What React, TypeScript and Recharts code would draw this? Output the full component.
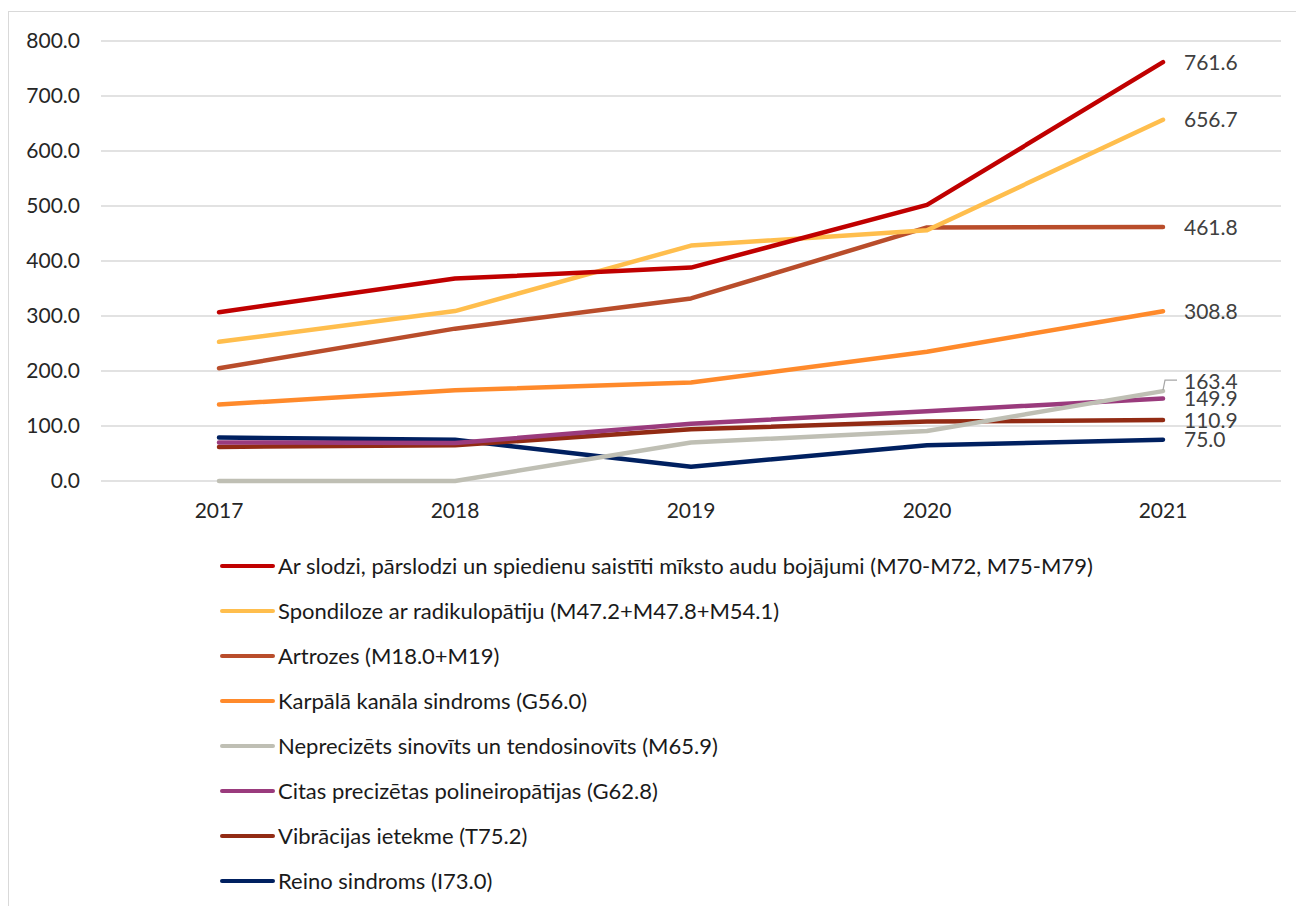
import { CartesianGrid, Legend, Line, LineChart, XAxis, YAxis } from "recharts";

const YEARS = ["2017", "2018", "2019", "2020", "2021"];

const arSlodzi = [307, 368, 388, 502, 761.6];
const spondiloze = [253, 309, 428, 456, 656.7];
const artrozes = [205, 277, 332, 461, 461.8];
const karpala = [139, 165, 179, 235, 308.8];
const neprecizets = [0, 0, 70, 91, 163.4];
const citas = [70, 69, 104, 127, 149.9];
const vibracijas = [62, 65, 94, 108, 110.9];
const reino = [79, 75, 26, 65, 75.0];

const Y_TICKS = [0, 100, 200, 300, 400, 500, 600, 700, 800];

const SERIES = [
  { key: "arSlodzi", name: "Ar slodzi, pārslodzi un spiedienu saistīti mīksto audu bojājumi (M70-M72, M75-M79)", color: "#C00000", values: arSlodzi },
  { key: "spondiloze", name: "Spondiloze ar radikulopātiju (M47.2+M47.8+M54.1)", color: "#FFBE4D", values: spondiloze },
  { key: "artrozes", name: "Artrozes (M18.0+M19)", color: "#B94D2B", values: artrozes },
  { key: "karpala", name: "Karpālā kanāla sindroms (G56.0)", color: "#FF8A2B", values: karpala },
  { key: "neprecizets", name: "Neprecizēts sinovīts un tendosinovīts (M65.9)", color: "#BFBFB4", values: neprecizets },
  { key: "citas", name: "Citas precizētas polineiropātijas (G62.8)", color: "#9A3B7D", values: citas },
  { key: "vibracijas", name: "Vibrācijas ietekme (T75.2)", color: "#922B14", values: vibracijas },
  { key: "reino", name: "Reino sindroms (I73.0)", color: "#002060", values: reino },
];

const rows = YEARS.map((year, i) => {
  const row: Record<string, string | number> = { year };
  SERIES.forEach((s) => {
    row[s.key] = s.values[i];
  });
  return row;
});

const FONT = "Lato, 'Open Sans', sans-serif";

function makeLabel(leader: boolean) {
  return (props: any) => {
    const { x, y, value, index } = props;
    if (index !== YEARS.length - 1) return null;
    const dy = leader ? -10 : 0;
    return (
      <g>
        {leader && (
          <polyline
            points={`${x},${y - 1} ${x + 2},${y + dy - 1} ${x + 14},${y + dy - 1}`}
            fill="none"
            stroke="#A6A6A6"
            strokeWidth={1.2}
          />
        )}
        <text x={x + 21} y={y + dy} dy="0.36em" fill="#404040" fontSize={21} fontFamily={FONT}>
          {Number(value).toFixed(1)}
        </text>
      </g>
    );
  };
}

function LegendList() {
  return (
    <div style={{ fontFamily: FONT, fontSize: 22, color: "#1a1a1a" }}>
      {SERIES.map((s) => (
        <div key={s.key} style={{ height: 45, display: "flex", alignItems: "center" }}>
          <span style={{ display: "inline-block", width: 55, height: 4, borderRadius: 2, background: s.color, marginRight: 3 }} />
          <span style={{ whiteSpace: "nowrap" }}>{s.name}</span>
        </div>
      ))}
    </div>
  );
}

export default function App() {
  return (
    <div
      style={{
        position: "fixed",
        left: 8,
        top: 11,
        width: 1300,
        height: 900,
        borderLeft: "1px solid #d9d9d9",
        borderTop: "1px solid #d9d9d9",
        background: "#fff",
      }}
    >
      <LineChart width={1287} height={895} data={rows} margin={{ top: 29, right: 15, bottom: 4, left: 12 }}>
        <CartesianGrid vertical={false} stroke="#d9d9d9" strokeWidth={1.3} />
        <XAxis
          dataKey="year"
          axisLine={false}
          tickLine={false}
          tickSize={0}
          tickMargin={22}
          height={62}
          padding={{ left: 118, right: 118 }}
          tick={{ fill: "#262626", fontSize: 21, fontFamily: FONT }}
        />
        <YAxis
          domain={[0, 800]}
          ticks={Y_TICKS}
          width={80}
          axisLine={false}
          tickLine={false}
          tickSize={0}
          tickMargin={21}
          tickFormatter={(v: number) => v.toFixed(1)}
          tick={{ fill: "#262626", fontSize: 21, fontFamily: FONT }}
        />
        <Legend
          verticalAlign="bottom"
          layout="vertical"
          align="center"
          wrapperStyle={{ left: 211, width: 1050 }}
          content={() => <LegendList />}
        />
        {SERIES.slice()
          .reverse()
          .map((s) => (
            <Line
              key={s.key}
              dataKey={s.key}
              name={s.name}
              stroke={s.color}
              strokeWidth={4.5}
              strokeLinecap="round"
              strokeLinejoin="round"
              dot={false}
              activeDot={false}
              isAnimationActive={false}
              label={makeLabel(s.key === "neprecizets")}
            />
          ))}
      </LineChart>
    </div>
  );
}
